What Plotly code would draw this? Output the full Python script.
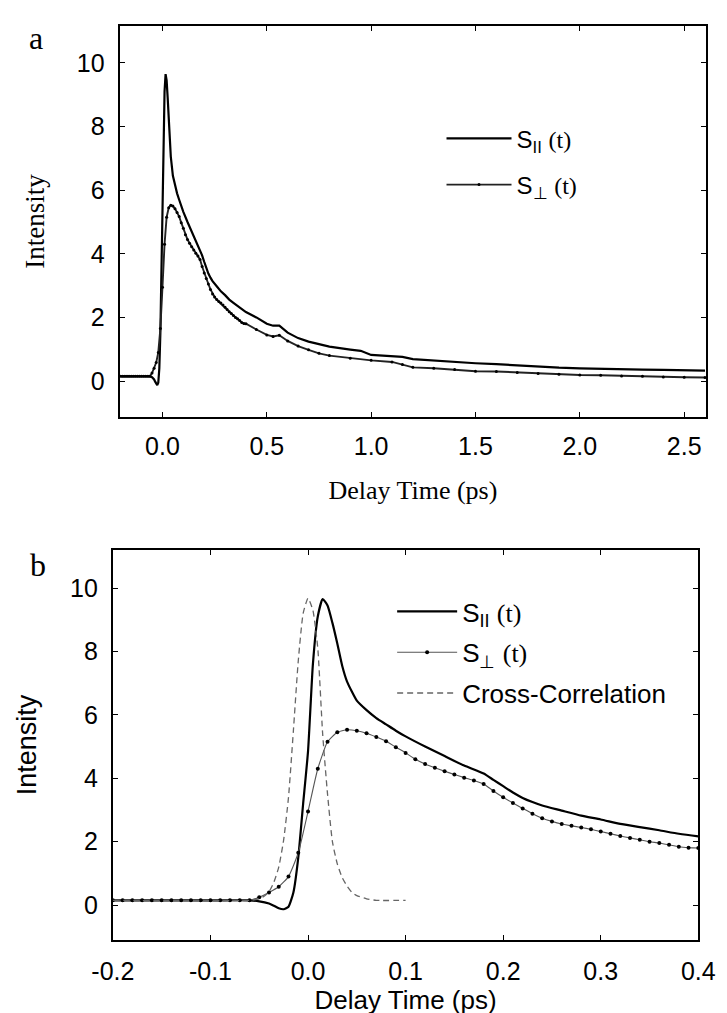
import plotly.graph_objects as go

# ---------------- data ----------------
# S_parallel(t)
t_par = [-0.20, -0.10, -0.06, -0.05, -0.04, -0.035, -0.03, -0.025, -0.02, -0.015,
         -0.01, -0.005, 0.0, 0.005, 0.01, 0.015, 0.02, 0.025, 0.03, 0.035,
         0.04, 0.05, 0.06, 0.07, 0.08, 0.09, 0.10, 0.12, 0.14, 0.16,
         0.18, 0.19, 0.20, 0.21, 0.22, 0.23, 0.24, 0.26, 0.28, 0.30,
         0.32, 0.34, 0.36, 0.38, 0.40, 0.45, 0.50, 0.53, 0.56, 0.60,
         0.65, 0.70, 0.75, 0.80, 0.90, 0.95, 1.00, 1.10, 1.15, 1.20,
         1.30, 1.40, 1.50, 1.60, 1.70, 1.80, 1.90, 2.00, 2.10, 2.20,
         2.30, 2.40, 2.50, 2.60]
s_par = [0.15, 0.15, 0.15, 0.12, 0.05, -0.02, -0.10, -0.13, -0.05, 0.40,
         1.50, 3.20, 4.85, 7.60, 9.10, 9.65, 9.45, 8.90, 8.25, 7.55,
         7.05, 6.45, 6.15, 5.90, 5.70, 5.50, 5.32, 5.00, 4.70, 4.40,
         4.15, 3.95, 3.75, 3.55, 3.38, 3.25, 3.14, 2.98, 2.82, 2.70,
         2.56, 2.46, 2.36, 2.25, 2.17, 2.00, 1.80, 1.74, 1.74, 1.52,
         1.35, 1.24, 1.15, 1.08, 0.99, 0.95, 0.82, 0.78, 0.76, 0.69,
         0.64, 0.60, 0.56, 0.53, 0.49, 0.45, 0.42, 0.40, 0.38, 0.37,
         0.36, 0.35, 0.34, 0.33]

# S_perpendicular(t)
t_perp = [-0.20, -0.19, -0.18, -0.17, -0.16, -0.15, -0.14, -0.13, -0.12, -0.11,
          -0.10, -0.09, -0.08, -0.07, -0.06, -0.05, -0.04, -0.03, -0.02, -0.01,
          0.00, 0.01, 0.02, 0.03, 0.04, 0.05, 0.06, 0.07, 0.08, 0.09,
          0.10, 0.11, 0.12, 0.13, 0.14, 0.15, 0.16, 0.17, 0.18, 0.19,
          0.20, 0.21, 0.22, 0.23, 0.24, 0.25, 0.26, 0.27, 0.28, 0.29,
          0.30, 0.31, 0.32, 0.33, 0.34, 0.35, 0.36, 0.37, 0.38, 0.39,
          0.40, 0.45, 0.50, 0.53, 0.56, 0.60, 0.65, 0.70, 0.75, 0.80,
          0.90, 1.00, 1.10, 1.15, 1.20, 1.30, 1.40, 1.50, 1.60, 1.70,
          1.80, 1.90, 2.00, 2.10, 2.20, 2.30, 2.40, 2.50, 2.60]
s_perp = [0.15, 0.15, 0.15, 0.15, 0.15, 0.15, 0.15, 0.15, 0.15, 0.15,
          0.15, 0.15, 0.15, 0.15, 0.15, 0.25, 0.40, 0.58, 0.90, 1.65,
          2.95, 4.30, 5.15, 5.45, 5.53, 5.50, 5.42, 5.30, 5.17, 4.98,
          4.80, 4.60, 4.45, 4.33, 4.22, 4.12, 4.02, 3.93, 3.82, 3.60,
          3.40, 3.22, 3.05, 2.88, 2.74, 2.64, 2.56, 2.50, 2.45, 2.39,
          2.32, 2.25, 2.18, 2.12, 2.06, 2.00, 1.96, 1.90, 1.84, 1.81,
          1.80, 1.62, 1.45, 1.40, 1.44, 1.26, 1.10, 0.98, 0.87, 0.80,
          0.72, 0.65, 0.60, 0.52, 0.43, 0.40, 0.36, 0.31, 0.30, 0.27,
          0.24, 0.21, 0.19, 0.18, 0.16, 0.15, 0.13, 0.12, 0.11]

# Cross-correlation (panel b only)
t_cc = [-0.20, -0.06, -0.05, -0.045, -0.04, -0.035, -0.03, -0.025, -0.02, -0.015,
        -0.01, -0.005, 0.0, 0.005, 0.01, 0.015, 0.02, 0.025, 0.03, 0.035,
        0.04, 0.045, 0.05, 0.06, 0.07, 0.10]
s_cc = [0.15, 0.15, 0.20, 0.28, 0.42, 0.72, 1.20, 2.05, 3.40, 5.50,
        7.70, 9.20, 9.68, 9.30, 8.10, 5.40, 3.50, 2.00, 1.30, 0.87,
        0.60, 0.40, 0.30, 0.20, 0.15, 0.15]

xticks_a = [0.0, 0.5, 1.0, 1.5, 2.0, 2.5]
xticklabels_a = ["0.0", "0.5", "1.0", "1.5", "2.0", "2.5"]
xticks_b = [-0.2, -0.1, 0.0, 0.1, 0.2, 0.3, 0.4]
xticklabels_b = ["-0.2", "-0.1", "0.0", "0.1", "0.2", "0.3", "0.4"]
yticks = [0, 2, 4, 6, 8, 10]

SANS = "Liberation Sans, Arial, sans-serif"
SERIF = "Liberation Serif, Times New Roman, serif"

lbl_par = "S<sub>II</sub> <span style='font-family:Liberation Serif'>(t)</span>"
lbl_perp = "S<sub>\u22a5</sub> <span style='font-family:Liberation Serif'>(t)</span>"

fig = go.Figure()

# ---- panel a ----
fig.add_trace(go.Scatter(x=t_par, y=s_par, mode="lines", name=lbl_par,
                         line=dict(color="black", width=2.2),
                         xaxis="x", yaxis="y", legend="legend", legendgroup="a1"))
fig.add_trace(go.Scatter(x=t_perp, y=s_perp, mode="lines+markers", name=lbl_perp,
                         line=dict(color="#222", width=1.9),
                         marker=dict(color="black", size=3),
                         xaxis="x", yaxis="y", legend="legend", legendgroup="a2"))

# ---- panel b ----
fig.add_trace(go.Scatter(x=t_par, y=s_par, mode="lines", name=lbl_par,
                         line=dict(color="black", width=2.2, shape="spline", smoothing=0.5),
                         xaxis="x2", yaxis="y2", legend="legend2", legendgroup="b1"))
fig.add_trace(go.Scatter(x=t_perp, y=s_perp, mode="lines+markers", name=lbl_perp,
                         line=dict(color="#555", width=1.1, shape="spline", smoothing=0.5),
                         marker=dict(color="black", size=4),
                         xaxis="x2", yaxis="y2", legend="legend2", legendgroup="b2"))
fig.add_trace(go.Scatter(x=t_cc, y=s_cc, mode="lines", name="Cross-Correlation",
                         line=dict(color="#666", width=1.3, dash="6px,4px",
                                   shape="spline", smoothing=0.5),
                         xaxis="x2", yaxis="y2", legend="legend2", legendgroup="b3"))

common_axis = dict(showline=True, linecolor="black", linewidth=2, mirror="ticks",
                   ticks="inside", ticklen=5, tickcolor="black", tickwidth=1.2,
                   showgrid=False, zeroline=False)

fig.update_layout(
    width=727, height=1013,
    margin=dict(l=100, r=8, t=10, b=10),
    paper_bgcolor="white", plot_bgcolor="white",
    font=dict(family=SANS, color="black"),
    xaxis=dict(domain=[0.0194, 0.9935], range=[-0.205, 2.605],
               tickvals=xticks_a, ticktext=xticklabels_a,
               tickfont=dict(family=SANS, size=25), ticklabelstandoff=6,
               title=dict(text="Delay Time (ps)", font=dict(family=SERIF, size=26), standoff=22),
               anchor="y", **common_axis),
    yaxis=dict(domain=[0.5982, 0.9919], range=[-1.13, 11.16],
               tickvals=yticks, tickfont=dict(family=SANS, size=25), ticklabelstandoff=8,
               title=dict(text="Intensity", font=dict(family=SERIF, size=27), standoff=24),
               anchor="x", **common_axis),
    xaxis2=dict(domain=[0.0081, 0.9806], range=[-0.2, 0.4],
                tickvals=xticks_b, ticktext=xticklabels_b,
                tickfont=dict(family=SANS, size=25), ticklabelstandoff=8,
                title=dict(text="Delay Time (ps)", font=dict(family=SANS, size=26), standoff=4),
                anchor="y2", **common_axis),
    yaxis2=dict(domain=[0.0715, 0.4643], range=[-1.1, 11.2],
                tickvals=yticks, tickfont=dict(family=SANS, size=25), ticklabelstandoff=8,
                title=dict(text="Intensity", font=dict(family=SANS, size=27), standoff=26),
                anchor="x2", **common_axis),
    legend=dict(x=0.554, y=0.901, xanchor="left", yanchor="top",
                bgcolor="rgba(0,0,0,0)", font=dict(family=SANS, size=24),
                tracegroupgap=12, itemwidth=65),
    legend2=dict(x=0.472, y=0.426, xanchor="left", yanchor="top",
                 bgcolor="rgba(0,0,0,0)", font=dict(family=SANS, size=26),
                 tracegroupgap=4, itemwidth=60),
    showlegend=True,
    annotations=[
        dict(text="a", x=-0.1195, y=0.9799, xref="paper", yref="paper",
             showarrow=False, font=dict(family=SERIF, size=32), xanchor="center", yanchor="middle"),
        dict(text="b", x=-0.1163, y=0.4491, xref="paper", yref="paper",
             showarrow=False, font=dict(family=SERIF, size=32), xanchor="center", yanchor="middle"),
    ],
)

fig.write_html("out.html")
